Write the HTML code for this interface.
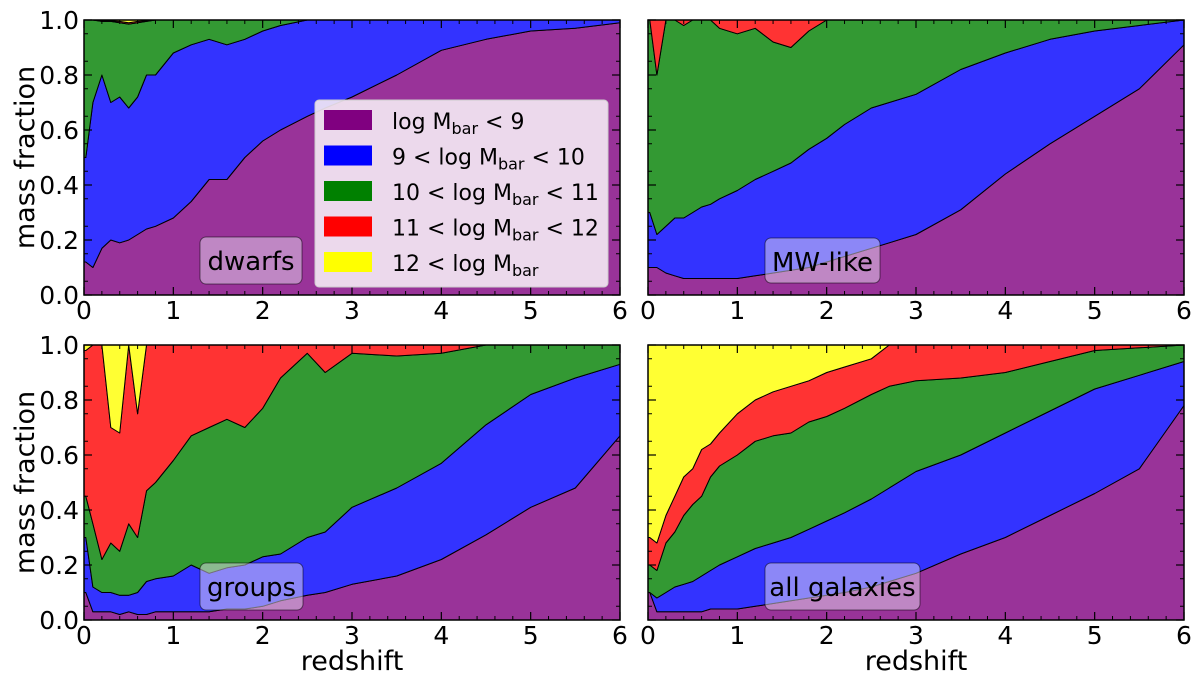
<!DOCTYPE html>
<html><head><meta charset="utf-8"><style>
body{margin:0;background:#fff}
svg text{font-family:"DejaVu Sans","Liberation Sans",sans-serif}
</style></head><body>
<svg id="fig" width="1200" height="680" viewBox="0 0 1200 680" xmlns="http://www.w3.org/2000/svg"></svg>
<script>
const zGrid=[0.02,0.1,0.2,0.3,0.4,0.5,0.6,0.7,0.8,1.0,1.2,1.4,1.6,1.8,2.0,2.2,2.5,2.7,3.0,3.5,4.0,4.5,5.0,5.5,6.0];
const seriesNames=["log Mbar < 9","9 < log Mbar < 10","10 < log Mbar < 11","11 < log Mbar < 12","12 < log Mbar"];
const fillColors=["#993399","#3333ff","#339933","#ff3333","#ffff33"];
const legendColors=["#800080","#0000ff","#008000","#ff0000","#ffff00"];
const yTicks=[0,0.2,0.4,0.6,0.8,1.0];
const xTicks=[0,1,2,3,4,5,6];
const dwarfsPurple=[0.12,0.1,0.17,0.2,0.19,0.2,0.22,0.24,0.25,0.28,0.34,0.42,0.42,0.5,0.56,0.6,0.65,0.68,0.72,0.8,0.89,0.93,0.96,0.97,0.99];
const dwarfsBlue=[0.5,0.7,0.8,0.7,0.72,0.68,0.72,0.8,0.8,0.88,0.91,0.93,0.91,0.93,0.96,0.98,1,1,1,1,1,1,1,1,1];
const dwarfsGreen=[1,1,0.995,0.995,0.99,0.985,0.99,0.995,1,1,1,1,1,1,1,1,1,1,1,1,1,1,1,1,1];
const dwarfsRed=[1,1,0.997,0.997,0.995,0.99,0.995,0.998,1,1,1,1,1,1,1,1,1,1,1,1,1,1,1,1,1];
const mwPurple=[0.1,0.1,0.08,0.07,0.06,0.06,0.06,0.06,0.06,0.06,0.07,0.08,0.09,0.1,0.12,0.14,0.17,0.19,0.22,0.31,0.44,0.55,0.65,0.75,0.91];
const mwBlue=[0.3,0.22,0.25,0.28,0.28,0.3,0.32,0.33,0.35,0.38,0.42,0.45,0.48,0.53,0.57,0.62,0.68,0.7,0.73,0.82,0.88,0.93,0.96,0.98,1.0];
const mwGreen=[1,0.8,1,1,0.98,1,1,1,0.97,0.95,0.97,0.92,0.9,0.96,1,1,1,1,1,1,1,1,1,1,1];
const mwRed=[1,1,1,1,1,1,1,1,1,1,1,1,1,1,1,1,1,1,1,1,1,1,1,1,1];
const grPurple=[0.1,0.03,0.03,0.03,0.02,0.03,0.02,0.02,0.03,0.03,0.03,0.03,0.04,0.04,0.05,0.07,0.09,0.1,0.13,0.16,0.22,0.31,0.41,0.48,0.67];
const grBlue=[0.3,0.12,0.1,0.1,0.09,0.09,0.1,0.14,0.15,0.16,0.2,0.17,0.19,0.2,0.23,0.24,0.3,0.32,0.41,0.48,0.57,0.71,0.82,0.88,0.93];
const grGreen=[0.45,0.35,0.22,0.28,0.25,0.35,0.3,0.47,0.5,0.58,0.67,0.7,0.73,0.7,0.77,0.88,0.97,0.9,0.97,0.96,0.97,1,1,1,1];
const grRed=[0.98,1,1,0.7,0.68,1,0.75,1,1,1,1,1,1,1,1,1,1,1,1,1,1,1,1,1,1];
const allPurple=[0.1,0.03,0.03,0.03,0.03,0.03,0.03,0.04,0.04,0.04,0.05,0.06,0.07,0.08,0.09,0.1,0.12,0.14,0.17,0.24,0.3,0.38,0.46,0.55,0.78];
const allBlue=[0.1,0.08,0.1,0.12,0.13,0.14,0.16,0.18,0.2,0.23,0.26,0.28,0.3,0.33,0.36,0.39,0.44,0.48,0.54,0.6,0.68,0.76,0.84,0.89,0.94];
const allGreen=[0.2,0.18,0.28,0.32,0.38,0.42,0.45,0.52,0.56,0.6,0.65,0.67,0.68,0.72,0.74,0.77,0.82,0.85,0.87,0.88,0.9,0.94,0.98,0.99,1];
const allRed=[0.3,0.28,0.38,0.45,0.52,0.55,0.62,0.64,0.68,0.75,0.8,0.83,0.85,0.87,0.9,0.92,0.95,1,1,1,1,1,1,1,1];

const NS="http://www.w3.org/2000/svg";
const svg=document.getElementById('fig');
function mk(tag,attrs,parent){const e=document.createElementNS(NS,tag);for(const k in attrs)e.setAttribute(k,attrs[k]);(parent||svg).appendChild(e);return e;}

const panels=[
 {name:"dwarfs",x0:84,y0:20,label:"dwarfs",lb:[200,237,102,47],layers:[dwarfsPurple,dwarfsBlue,dwarfsGreen,dwarfsRed],ylab:true,xlab:false},
 {name:"mw-like",x0:648,y0:20,label:"MW-like",lb:[765,238,115,45],layers:[mwPurple,mwBlue,mwGreen,mwRed],ylab:false,xlab:false},
 {name:"groups",x0:84,y0:345,label:"groups",lb:[200,563,103,47],layers:[grPurple,grBlue,grGreen,grRed],ylab:true,xlab:true},
 {name:"all-galaxies",x0:648,y0:345,label:"all galaxies",lb:[765,563,155,47],layers:[allPurple,allBlue,allGreen,allRed],ylab:false,xlab:true}
];
const W=536,H=275;
panels.forEach(p=>{
 const g=mk('g',{});
 
 
 const sx=z=>p.x0+z/6*W, sy=v=>p.y0+H-v*H;
 const tops=[...p.layers,zGrid.map(()=>1)];
 let lower=zGrid.map(()=>0);
 tops.forEach((up,i)=>{
  let d='M'+sx(0).toFixed(1)+','+sy(up[0]).toFixed(1)+'L'+zGrid.map((z,j)=>sx(z).toFixed(1)+','+sy(up[j]).toFixed(1)).join('L');
  for(let j=zGrid.length-1;j>=0;j--) d+='L'+sx(zGrid[j]).toFixed(1)+','+sy(lower[j]).toFixed(1);
  d+='L'+sx(0).toFixed(1)+','+sy(lower[0]).toFixed(1)+'Z';
  const a=mk('path',{d:d,fill:fillColors[i],stroke:'#000','stroke-width':1,'stroke-linejoin':'round'},g);
  
  
  lower=up;
 });
 mk('rect',{x:p.x0,y:p.y0,width:W,height:H,fill:'none',stroke:'#000','stroke-width':1.5},g);
 yTicks.forEach(v=>{
  mk('line',{x1:p.x0,x2:p.x0+8,y1:sy(v),y2:sy(v),stroke:'#000','stroke-width':1.2},g);
  mk('line',{x1:p.x0+W,x2:p.x0+W-8,y1:sy(v),y2:sy(v),stroke:'#000','stroke-width':1.2},g);
  if(p.ylab){const t=mk('text',{x:p.x0-5,y:sy(v)+9,'text-anchor':'end','font-size':25},g);t.textContent=v.toFixed(1);
   }
 });
 for(let v=0.05;v<1;v+=0.1){
  mk('line',{x1:p.x0,x2:p.x0+4,y1:sy(v),y2:sy(v),stroke:'#000'},g);
  mk('line',{x1:p.x0+W,x2:p.x0+W-4,y1:sy(v),y2:sy(v),stroke:'#000'},g);
 }
 xTicks.forEach(z=>{
  mk('line',{x1:sx(z),x2:sx(z),y1:p.y0+H,y2:p.y0+H-8,stroke:'#000','stroke-width':1.2},g);
  mk('line',{x1:sx(z),x2:sx(z),y1:p.y0,y2:p.y0+8,stroke:'#000','stroke-width':1.2},g);
  const t=mk('text',{x:sx(z),y:p.y0+H+24,'text-anchor':'middle','font-size':25},g);t.textContent=z;
  
 });
 for(let z=0.2;z<6;z+=0.2){
  if(Math.abs(z-Math.round(z))<0.01)continue;
  mk('line',{x1:sx(z),x2:sx(z),y1:p.y0+H,y2:p.y0+H-4,stroke:'#000'},g);
  mk('line',{x1:sx(z),x2:sx(z),y1:p.y0,y2:p.y0+4,stroke:'#000'},g);
 }
 const lb=mk('rect',{x:p.lb[0],y:p.lb[1],width:p.lb[2],height:p.lb[3],rx:6,fill:'rgba(230,220,240,0.5)',stroke:'#000','stroke-opacity':0.5},g);
 
 const lt=mk('text',{x:p.lb[0]+p.lb[2]/2,y:p.lb[1]+33,'text-anchor':'middle','font-size':26},g);lt.textContent=p.label;
 
 if(p.ylab){const t=mk('text',{x:34,y:p.y0+H/2,'text-anchor':'middle','font-size':27,transform:'rotate(-90 34 '+(p.y0+H/2)+')'},g);t.textContent='mass fraction';
  }
 if(p.xlab){const t=mk('text',{x:p.x0+W/2,y:670,'text-anchor':'middle','font-size':27},g);t.textContent='redshift';
  }
});
const lg=mk('g',{});


mk('rect',{x:315,y:100,width:293,height:187,rx:4,fill:'rgba(245,235,245,0.9)',stroke:'#ccc'},lg);
const subs=[["log M","bar"," < 9"],["9 < log M","bar"," < 10"],["10 < log M","bar"," < 11"],["11 < log M","bar"," < 12"],["12 < log M","bar",""]];
subs.forEach((s,i)=>{
 const y=110+i*35.5;
 const r=mk('rect',{x:324,y:y,width:48,height:20,fill:legendColors[i]},lg);
 
 const t=mk('text',{x:392,y:y+19,'font-size':22},lg);
 
 const a=mk('tspan',{},t);a.textContent=s[0];
 const b=mk('tspan',{dy:5,'font-size':16},t);b.textContent=s[1];
 const c=mk('tspan',{dy:-5},t);c.textContent=s[2];
});
</script>
</body></html>
